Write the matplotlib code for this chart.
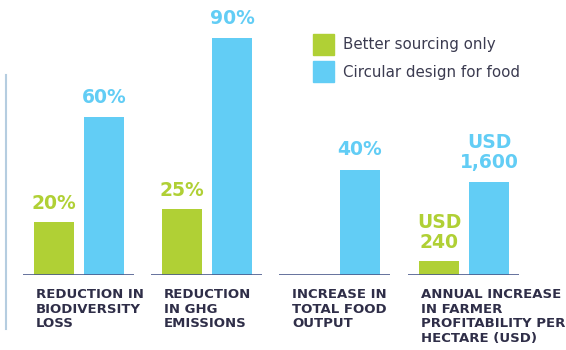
import matplotlib.pyplot as plt
from matplotlib.patches import Patch
from matplotlib.lines import Line2D

# values per group: better sourcing only / circular design for food
categories = ["REDUCTION IN\nBIODIVERSITY\nLOSS",
              "REDUCTION\nIN GHG\nEMISSIONS",
              "INCREASE IN\nTOTAL FOOD\nOUTPUT",
              "ANNUAL INCREASE\nIN FARMER\nPROFITABILITY PER\nHECTARE (USD)"]
better = [20, 25, None, 240]
circular = [60, 90, 40, 1600]
better_labels = ["20%", "25%", "", "USD\n240"]
circular_labels = ["60%", "90%", "40%", "USD\n1,600"]
series_names = ["Better sourcing only", "Circular design for food"]

GREEN = "#b0d035"
BLUE = "#62cdf5"
NAVY = "#2f2e48"
BASE = "#4b5a8c"

W, H = 566, 350
fig = plt.figure(figsize=(W / 100, H / 100), dpi=100)

lefts = [23, 151, 279, 408]
ytops = [104.6, 104.6, 104.6, 4733]

for i in range(4):
    ax = fig.add_axes([lefts[i] / W, 75 / H, 111 / W, 275 / H])
    ax.set_xlim(-0.62, 1.6)
    ax.set_ylim(0, ytops[i])
    ax.axis("off")
    ax.axhline(0, color=BASE, lw=1.2)
    if better[i] is not None:
        ax.bar(0, better[i], width=0.8, color=GREEN)
        ax.annotate(better_labels[i], (0, better[i]), xytext=(0, 6.5),
                    textcoords="offset points", ha="center", va="bottom",
                    color=GREEN, fontsize=13.5, fontweight="bold",
                    linespacing=1.05)
    ax.bar(1, circular[i], width=0.8, color=BLUE)
    ax.annotate(circular_labels[i], (1, circular[i]), xytext=(0, 7.5),
                textcoords="offset points", ha="center", va="bottom",
                color=BLUE, fontsize=13.5, fontweight="bold",
                linespacing=1.05)
    ax.annotate(categories[i], (-0.4, 0), xytext=(1.5, -9.5),
                textcoords="offset points", ha="left", va="top",
                color=NAVY, fontsize=9.5, fontweight="bold",
                linespacing=1.15, annotation_clip=False)

# thin rule on the left edge
fig.add_artist(Line2D([5.5 / W, 5.5 / W], [1 - 75 / H, 1 - 329 / H],
                      color="#b5cde0", lw=1.5))

handles = [Patch(color=GREEN), Patch(color=BLUE)]
fig.legend(handles, series_names, loc="upper left",
           bbox_to_anchor=(313 / W, 1 - 34 / H), frameon=False,
           fontsize=10.8, labelcolor="#3b3b50", handlelength=1.4,
           handleheight=1.75, handletextpad=0.6, labelspacing=0.45,
           borderpad=0, borderaxespad=0)

fig.savefig("out.png", dpi=100)
